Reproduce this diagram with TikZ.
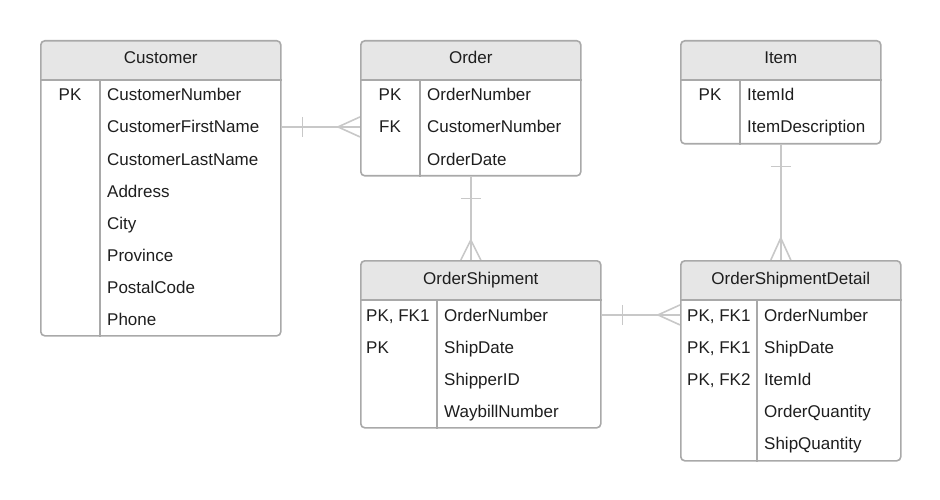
\documentclass[tikz,border=0pt]{standalone}
\usepackage{fontspec}
\setmainfont{Liberation Sans}
\usetikzlibrary{calc,backgrounds}
\definecolor{boxgray}{HTML}{A9A9A9}
\definecolor{hdrgray}{HTML}{E6E6E6}
\definecolor{relgray}{HTML}{C8C8C8}
\definecolor{txtgray}{HTML}{1E1E1E}

\begin{document}
\begin{tikzpicture}[x=1pt, y=-1pt, font=\fontsize{17}{20}\selectfont, text=txtgray]
  \tikzset{
    entity/.style={draw=boxgray, line width=1.6pt, rounded corners=4pt, anchor=north west, inner sep=0pt,
      path picture={\fill[hdrgray] (path picture bounding box.north west) rectangle ([yshift=-40pt]path picture bounding box.north east);}},
    ttl/.style={anchor=base, inner sep=0pt},
    keycol/.style={anchor=base, inner sep=0pt},
    keyleft/.style={anchor=base west, inner sep=0pt},
    attr/.style={anchor=base west, inner sep=0pt},
    sep/.style={draw=boxgray, line width=1.6pt},
    rel/.style={draw=relgray, line width=1.6pt},
  }
  \useasboundingbox (0,0) rectangle (940,500);
  % Customer
  \node[entity, minimum width=240pt, minimum height=295pt] (cust) at (40,40) {};
  \draw[sep] ([yshift=-40pt]cust.north west) -- ([yshift=-40pt]cust.north east);
  \draw[sep] ([xshift=60pt,yshift=-40pt]cust.north west) -- ([xshift=60pt]cust.south west);
  \node[ttl] (cust-t) at ($(cust.north)+(0,24)$) {Customer};
  \node[keycol] (cust-k1) at (70,101) {PK};
  \foreach \t [count=\i] in {CustomerNumber,CustomerFirstName,CustomerLastName,Address,City,Province,PostalCode,Phone}
    \node[attr] (cust-a\i) at (107,69+32*\i) {\t};
  % Order
  \node[entity, minimum width=220pt, minimum height=135pt] (ord) at (360,40) {};
  \draw[sep] ([yshift=-40pt]ord.north west) -- ([yshift=-40pt]ord.north east);
  \draw[sep] ([xshift=60pt,yshift=-40pt]ord.north west) -- ([xshift=60pt]ord.south west);
  \node[ttl] (ord-t) at ($(ord.north)+(0,24)$) {Order};
  \node[keycol] (ord-k1) at (390,101) {PK};
  \node[keycol] (ord-k2) at (390,133) {FK};
  \foreach \t [count=\i] in {OrderNumber,CustomerNumber,OrderDate}
    \node[attr] (ord-a\i) at (427,69+32*\i) {\t};
  % Item
  \node[entity, minimum width=200pt, minimum height=103pt] (item) at (680,40) {};
  \draw[sep] ([yshift=-40pt]item.north west) -- ([yshift=-40pt]item.north east);
  \draw[sep] ([xshift=60pt,yshift=-40pt]item.north west) -- ([xshift=60pt]item.south west);
  \node[ttl] (item-t) at ($(item.north)+(0,24)$) {Item};
  \node[keycol] (item-k1) at (710,101) {PK};
  \foreach \t [count=\i] in {ItemId,ItemDescription}
    \node[attr] (item-a\i) at (747,69+32*\i) {\t};
  % OrderShipment
  \node[entity, minimum width=240pt, minimum height=167pt] (os) at (360,260) {};
  \draw[sep] ([yshift=-40pt]os.north west) -- ([yshift=-40pt]os.north east);
  \draw[sep] ([xshift=77pt,yshift=-40pt]os.north west) -- ([xshift=77pt]os.south west);
  \node[ttl] (os-t) at ($(os.north)+(0,24)$) {OrderShipment};
  \node[keyleft] (os-k1) at (366,321) {PK, FK1};
  \node[keyleft] (os-k2) at (366,353) {PK};
  \foreach \t [count=\i] in {OrderNumber,ShipDate,ShipperID,WaybillNumber}
    \node[attr] (os-a\i) at (444,289+32*\i) {\t};
  % OrderShipmentDetail
  \node[entity, minimum width=220pt, minimum height=200pt] (osd) at (680,260) {};
  \draw[sep] ([yshift=-40pt]osd.north west) -- ([yshift=-40pt]osd.north east);
  \draw[sep] ([xshift=77pt,yshift=-40pt]osd.north west) -- ([xshift=77pt]osd.south west);
  \node[ttl] (osd-t) at ($(osd.north)+(0,24)$) {OrderShipmentDetail};
  \node[keyleft] (osd-k1) at (687,321) {PK, FK1};
  \node[keyleft] (osd-k2) at (687,353) {PK, FK1};
  \node[keyleft] (osd-k3) at (687,385) {PK, FK2};
  \foreach \t [count=\i] in {OrderNumber,ShipDate,ItemId,OrderQuantity,ShipQuantity}
    \node[attr] (osd-a\i) at (764,289+32*\i) {\t};
  % relationships
  \begin{scope}[on background layer]
    % Customer -- Order
    \draw[rel] (cust.east |- cust-a2) -- (ord.west |- cust-a2);
    \draw[rel] ($(cust.east |- cust-a2)+(21,-10)$) -- ++(0,20);
    \draw[rel] ($(ord.west |- cust-a2)+(0,-10)$) -- ++(-22,10) -- ++(22,10);
    % Order -- OrderShipment
    \draw[rel] (ord.south) -- (ord.south |- os.north);
    \draw[rel] ($(ord.south)+(-10,22)$) -- ++(20,0);
    \draw[rel] ($(ord.south |- os.north)+(-10,0)$) -- ++(10,-20) -- ++(10,20);
    % Item -- OrderShipmentDetail
    \draw[rel] (item.south) -- (item.south |- osd.north);
    \draw[rel] ($(item.south)+(-10,22)$) -- ++(20,0);
    \draw[rel] ($(item.south |- osd.north)+(-10,0)$) -- ++(10,-22) -- ++(10,22);
    % OrderShipment -- OrderShipmentDetail
    \draw[rel] (os.east |- os-a1) -- (osd.west |- os-a1);
    \draw[rel] ($(os.east |- os-a1)+(21,-10)$) -- ++(0,20);
    \draw[rel] ($(osd.west |- os-a1)+(0,-10)$) -- ++(-22,10) -- ++(22,10);
  \end{scope}
\end{tikzpicture}
\end{document}
